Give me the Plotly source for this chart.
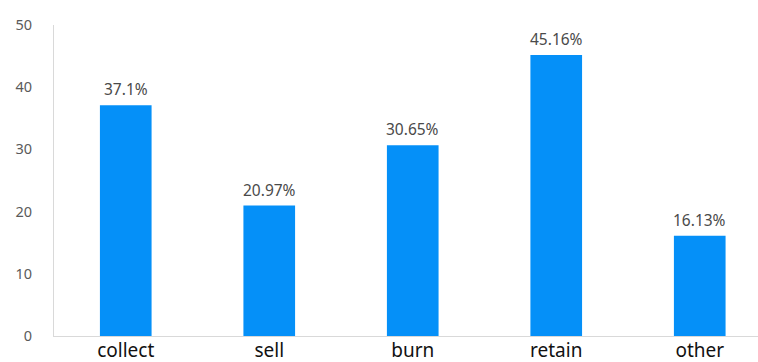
import plotly.graph_objects as go

categories = ["collect", "sell", "burn", "retain", "other"]
values = [37.1, 20.97, 30.65, 45.16, 16.13]
y_ticks = [0, 10, 20, 30, 40, 50]

labels = [f"{v}%" for v in values]

fig = go.Figure(
    go.Bar(
        x=categories,
        y=values,
        marker=dict(color="#0590F8", line=dict(width=0)),
        width=0.36,
        hoverinfo="x+y",
    )
)

# value labels just above each bar
for cat, val, lab in zip(categories, values, labels):
    fig.add_annotation(
        x=cat,
        y=val,
        text=lab,
        showarrow=False,
        yanchor="bottom",
        yshift=3,
        font=dict(size=15.5, color="#4A4A4A", family="Noto Sans"),
    )

fig.update_layout(
    width=758,
    height=362,
    margin=dict(l=54, r=0, t=25, b=26),
    paper_bgcolor="white",
    plot_bgcolor="white",
    showlegend=False,
    font=dict(family="Noto Sans"),
)

fig.update_xaxes(
    range=[-0.5, 4.406],
    showline=True,
    linecolor="#D9D9D9",
    linewidth=1,
    showgrid=False,
    ticks="",
    tickfont=dict(size=19, color="#111111"),
    ticklabelstandoff=-3,
    automargin=False,
)

fig.update_yaxes(
    range=[0, 50],
    tickvals=y_ticks,
    showline=True,
    linecolor="#D9D9D9",
    linewidth=1,
    showgrid=False,
    zeroline=False,
    ticks="",
    tickfont=dict(size=14.5, color="#5A5A5A"),
    ticklabelstandoff=18,
    automargin=False,
)

fig.write_html("out.html")
